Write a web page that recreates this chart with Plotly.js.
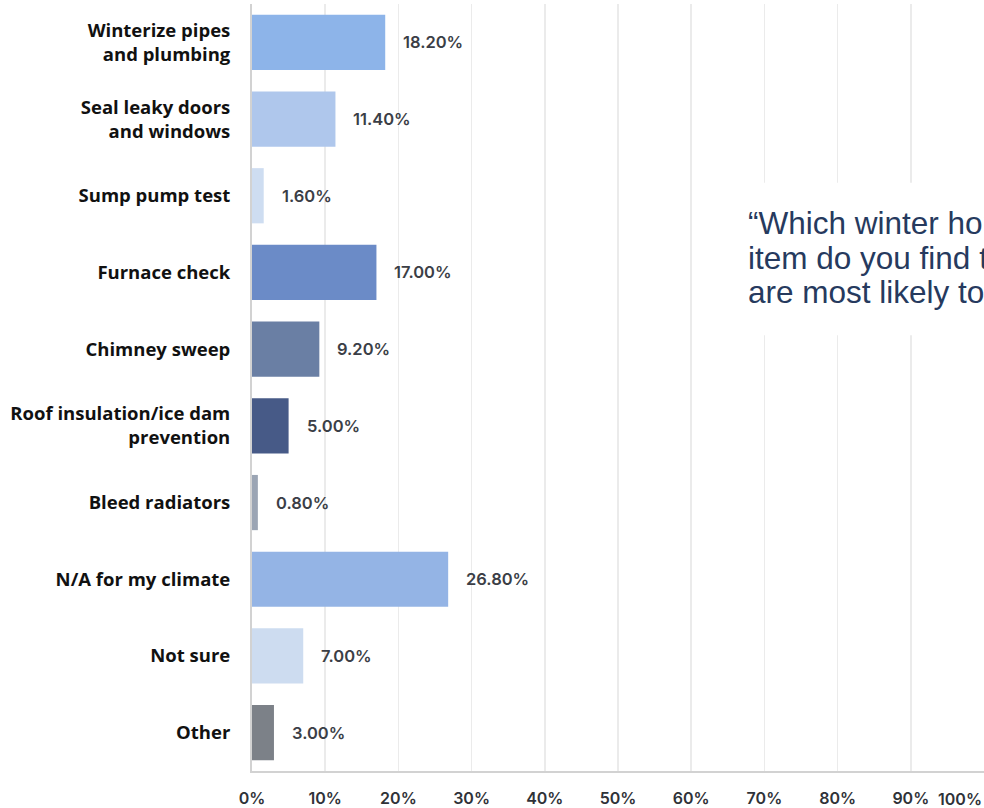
<!DOCTYPE html>
<html>
<head>
<meta charset="utf-8">
<script src="https://cdn.plot.ly/plotly-3.0.1.min.js"></script>
<style>html,body{margin:0;padding:0;background:#fff;}#chart{width:984px;height:808px;}</style>
</head>
<body>
<div id="chart"></div>
<script>
const categories = [
  "Winterize pipes<br>and plumbing",
  "Seal leaky doors<br>and windows",
  "Sump pump test",
  "Furnace check",
  "Chimney sweep",
  "Roof insulation/ice dam<br>prevention",
  "Bleed radiators",
  "N/A for my climate",
  "Not sure",
  "Other"
];
const values = [18.2, 11.4, 1.6, 17.0, 9.2, 5.0, 0.8, 26.8, 7.0, 3.0];
const barColors = ["#8DB4E9", "#AFC7EC", "#CEDDF1", "#6B8BC7", "#6A7FA4", "#475A87", "#9BA5B4", "#94B4E5", "#CDDCF0", "#7C8188"];
const tickValues = [0, 10, 20, 30, 40, 50, 60, 70, 80, 90, 100];
const tickLabels = ["0%", "10%", "20%", "30%", "40%", "50%", "60%", "70%", "80%", "90%", "100%"];
const titleLines = ["\u201CWhich winter home maintenance", "item do you find that homeowners", "are most likely to neglect?\u201D"];

const valueFont = {family: "Inter, 'Noto Sans', sans-serif", size: 16.5, color: "#3b3e46", weight: 600};
const tickFont = {family: "Inter, 'Noto Sans', sans-serif", size: 16, color: "#2f3238", weight: 600};

const annotations = values.map((v, i) => ({
  x: v, y: categories[i], xref: "x", yref: "y",
  text: v.toFixed(2) + "%", showarrow: false,
  xanchor: "left", yanchor: "middle", xshift: 16,
  font: valueFont
}));

// last tick label drawn right-aligned so it stays inside the page
annotations.push({
  x: tickValues[tickValues.length - 1], y: 0, xref: "x", yref: "paper",
  text: tickLabels[tickLabels.length - 1], showarrow: false,
  xanchor: "right", yanchor: "middle", yshift: -28,
  font: tickFont
});

const titleY = [0.714, 0.669, 0.624];
titleLines.forEach((t, i) => annotations.push({
  x: 0.675, y: titleY[i], xref: "paper", yref: "paper",
  text: t, showarrow: false, xanchor: "left", yanchor: "middle", align: "left",
  font: {family: "'Liberation Sans', Arial, sans-serif", size: 31.5, color: "#263a5e"}
}));

const trace = {
  type: "bar",
  orientation: "h",
  y: categories,
  x: values,
  marker: {color: barColors},
  width: 0.72,
  hoverinfo: "none"
};

const layout = {
  width: 984, height: 808,
  margin: {l: 252, r: 0, t: 4, b: 37},
  paper_bgcolor: "#ffffff",
  plot_bgcolor: "#ffffff",
  showlegend: false,
  xaxis: {
    range: [0, 100],
    tickvals: tickValues.slice(0, -1),
    ticktext: tickLabels.slice(0, -1),
    showgrid: true, gridcolor: "#ebebeb", gridwidth: 1.5,
    showline: true, linecolor: "#d2d2d2", linewidth: 2,
    zeroline: false,
    ticks: "", ticklabelstandoff: 12,
    tickfont: tickFont,
    fixedrange: true
  },
  yaxis: {
    autorange: "reversed",
    showgrid: false,
    showline: true, linecolor: "#d2d2d2", linewidth: 2,
    zeroline: false,
    ticks: "", ticklabelstandoff: 16,
    tickfont: {family: "'Open Sans', 'Noto Sans', sans-serif", size: 18.5, color: "#111111", weight: 700},
    fixedrange: true
  },
  shapes: [{
    type: "rect", xref: "paper", yref: "paper",
    x0: 0.672, x1: 1.0, y0: 0.568, y1: 0.767,
    fillcolor: "#ffffff", line: {width: 0}, layer: "above"
  }],
  annotations: annotations
};

Plotly.newPlot("chart", [trace], layout, {displayModeBar: false, staticPlot: true});
</script>
</body>
</html>
